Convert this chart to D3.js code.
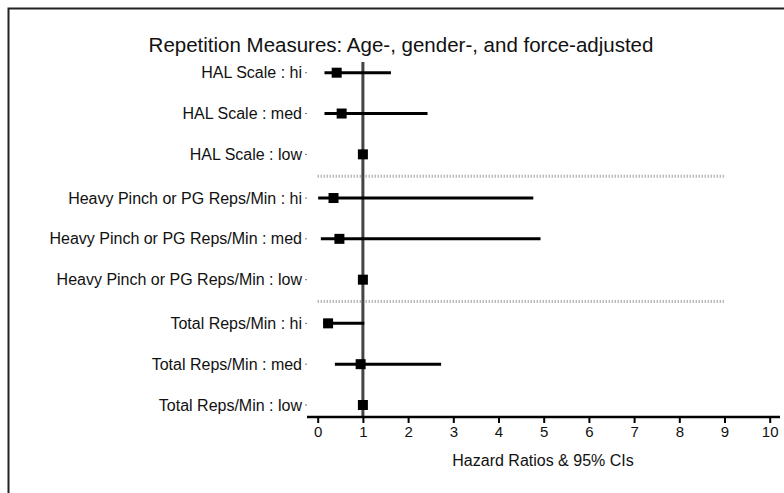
<!DOCTYPE html>
<html>
<head>
<meta charset="utf-8">
<script src="https://cdn.jsdelivr.net/npm/d3@7"></script>
<style>
  body { margin: 0; background: #fff; }
  text { font-family: "Liberation Sans", Arial, sans-serif; fill: #111; }
</style>
</head>
<body>
<svg id="chart"></svg>
<script>
var width = 784;
var height = 493;

// rows, top to bottom
var labels = [
    "HAL Scale : hi", "HAL Scale : med", "HAL Scale : low",
    "Heavy Pinch or PG Reps/Min : hi", "Heavy Pinch or PG Reps/Min : med", "Heavy Pinch or PG Reps/Min : low",
    "Total Reps/Min : hi", "Total Reps/Min : med", "Total Reps/Min : low"
];
var groups = [0, 0, 0, 1, 1, 1, 2, 2, 2];
var hr    = [0.42, 0.53, 1, 0.35, 0.48, 1, 0.23, 0.95, 1];
var lower = [0.15, 0.15, 1, 0.01, 0.07, 1, 0.12, 0.38, 1];
var upper = [1.62, 2.43, 1, 4.77, 4.93, 1, 1.03, 2.73, 1];
var xTicks = [0, 1, 2, 3, 4, 5, 6, 7, 8, 9, 10];

var rows = labels.map((d, i) => ({
    label: d, hr: hr[i], lo: lower[i], hi: upper[i],
    slot: groups[i] * 3.07 + (i % 3)
}));

var xScale = d3.scaleLinear().domain([0, 10]).range([317.7, 769.7]);
var yScale = d3.scaleLinear().domain([0, 8.14]).range([72.7, 405]);

var svg = d3.select("#chart")
    .attr("width", width)
    .attr("height", height);

// frame
svg.append("path")
    .attr("d", "M8.5," + height + "V8.5H" + width)
    .attr("fill", "none")
    .attr("stroke", "#222")
    .attr("stroke-width", 2);

svg.append("text")
    .attr("x", 401)
    .attr("y", 52)
    .attr("text-anchor", "middle")
    .style("font-size", "20.5px")
    .text("Repetition Measures: Age-, gender-, and force-adjusted");

// group separators
[2.535, 5.605].forEach(s => {
    svg.append("line")
        .attr("x1", xScale(0)).attr("x2", xScale(9))
        .attr("y1", yScale(s)).attr("y2", yScale(s))
        .attr("stroke", "#999")
        .attr("stroke-width", 3)
        .attr("stroke-dasharray", "1,2");
});

// reference line at HR = 1
svg.append("line")
    .attr("x1", xScale(1)).attr("x2", xScale(1))
    .attr("y1", 62).attr("y2", 417)
    .attr("stroke", "#444")
    .attr("stroke-width", 3);

var row = svg.selectAll("g.row")
    .data(rows)
    .enter()
    .append("g")
    .attr("class", "row");

row.append("line")
    .attr("x1", d => xScale(d.lo))
    .attr("x2", d => xScale(d.hi))
    .attr("y1", d => yScale(d.slot))
    .attr("y2", d => yScale(d.slot))
    .attr("stroke", "#000")
    .attr("stroke-width", 3);

row.append("rect")
    .attr("x", d => xScale(d.hr) - 5)
    .attr("y", d => yScale(d.slot) - 5)
    .attr("width", 10)
    .attr("height", 10)
    .attr("fill", "#000");

row.append("text")
    .attr("x", 302)
    .attr("y", d => yScale(d.slot) + 5.5)
    .attr("text-anchor", "end")
    .style("font-size", "16px")
    .text(d => d.label);

row.append("line")
    .attr("x1", 305).attr("x2", 307)
    .attr("y1", d => yScale(d.slot)).attr("y2", d => yScale(d.slot))
    .attr("stroke", "#777")
    .attr("stroke-width", 1);

// x axis
var xAxis = d3.axisBottom(xScale)
    .tickValues(xTicks)
    .tickSize(6)
    .tickSizeOuter(0)
    .tickFormat(d3.format("d"));

var gx = svg.append("g")
    .attr("transform", "translate(0,417)")
    .call(xAxis);

gx.select(".domain").remove();
gx.append("line")
    .attr("x1", 307).attr("x2", 780)
    .attr("stroke", "#000")
    .attr("stroke-width", 2.5);
gx.selectAll(".tick line").attr("stroke", "#000").attr("stroke-width", 2);
gx.selectAll(".tick text")
    .attr("y", 9)
    .style("font-size", "15px")
    .style("font-family", "Liberation Sans, Arial, sans-serif")
    .attr("fill", "#111");

svg.append("text")
    .attr("x", 543)
    .attr("y", 465.5)
    .attr("text-anchor", "middle")
    .style("font-size", "16px")
    .text("Hazard Ratios & 95% CIs");
</script>
</body>
</html>
